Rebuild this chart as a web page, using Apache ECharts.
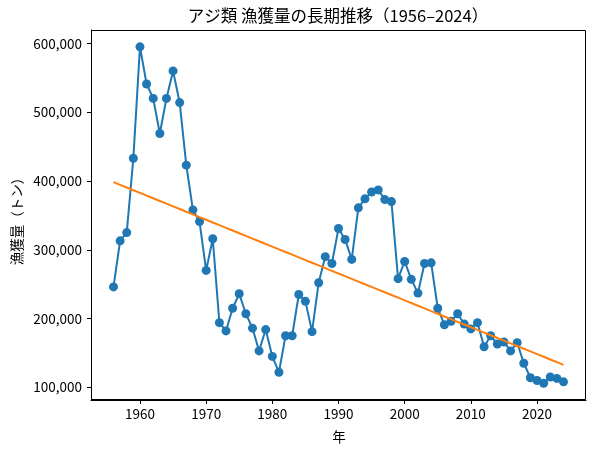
<!DOCTYPE html>
<html><head><meta charset="utf-8">
<script src="https://cdn.jsdelivr.net/npm/echarts@6/dist/echarts.min.js"></script>
<style>html,body{margin:0;padding:0;background:#fff}#c{width:597px;height:455px}</style>
</head><body><div id="c"></div>
<script>
const years = [];
for (let y = 1956; y <= 2024; y++) years.push(y);
const catch_t = [
 246000, 313000, 325000, 433000, 595000, 541000, 520000, 469000, 520000, 560000,
 514000, 423000, 358000, 341000, 270000, 316000, 194000, 182000, 215000, 236000,
 207000, 186000, 153000, 184000, 145000, 122000, 175000, 175000, 235000, 225000,
 181000, 252000, 290000, 280000, 331000, 315000, 286000, 361000, 374000, 384000,
 387000, 373000, 370000, 258000, 283000, 257000, 237000, 280000, 281000, 215000,
 191000, 196000, 207000, 192000, 185000, 194000, 159000, 175000, 163000, 166000,
 153000, 165000, 135000, 114000, 110000, 106000, 115000, 113000, 108000
];
const yTicks = [100000, 200000, 300000, 400000, 500000, 600000];
const xTicks = [1960, 1970, 1980, 1990, 2000, 2010, 2020];

// least squares trend
const n = years.length;
let sx=0, sy=0, sxx=0, sxy=0;
for (let i=0;i<n;i++){sx+=years[i];sy+=catch_t[i];sxx+=years[i]*years[i];sxy+=years[i]*catch_t[i];}
const b = (n*sxy - sx*sy)/(n*sxx - sx*sx);
const a = (sy - b*sx)/n;
const trend = years.map(x => [x, a + b*x]);

const font = '"Noto Sans CJK JP", "Noto Sans", sans-serif';
const chart = echarts.init(document.getElementById('c'), null, {renderer:'canvas'});
chart.setOption({
  animation: false,
  textStyle: {fontFamily: font},
  grid: {left: 91, right: 11, top: 30, bottom: 55, containLabel: false},
  graphic: [
    {type:'text', x: 338, y: 16,
     style:{text:'アジ類 漁獲量の長期推移（1956–2024）', font:'16.5px ' + font, fill:'#000', align:'center', verticalAlign:'middle'}},
    {type:'text', x: 339, y: 437, style:{text:'年', font:'13.5px ' + font, fill:'#000', align:'center', verticalAlign:'middle'}},
    {type:'text', x: 17, y: 218, rotation: Math.PI/2,
     style:{text:'漁獲量（トン）', font:'13.5px ' + font, fill:'#000', align:'center', verticalAlign:'middle'}},
    {type:'rect', shape:{x:91.5, y:30.5, width:494, height:369}, style:{fill:'none', stroke:'#000', lineWidth:1}, z:10, silent:true}
  ],
  xAxis: {
    type: 'value', min: 1952.6, max: 2027.4,
    splitLine: {show:false},
    axisLine: {show:true, onZero:false, lineStyle:{color:'#000', width:1}},
    axisTick: {show:true, length:4, lineStyle:{color:'#000'}, customValues: xTicks},
    axisLabel: {color:'#000', fontSize:13.5, margin:7, fontFamily: font, customValues: xTicks, formatter: v => String(v)}
  },
  yAxis: {
    type: 'value', min: 81600, max: 619500,
    splitLine: {show:false},
    axisLine: {show:true, onZero:false, lineStyle:{color:'#000', width:1}},
    axisTick: {show:true, length:4, lineStyle:{color:'#000'}, customValues: yTicks},
    axisLabel: {color:'#000', fontSize:13.5, margin:9, fontFamily: font, customValues: yTicks,
      formatter: v => v.toLocaleString('en-US')}
  },
  series: [
    {type:'line', data: years.map((y,i)=>[y, catch_t[i]]), symbol:'circle', symbolSize:9,
     itemStyle:{color:'#1f77b4'}, lineStyle:{color:'#1f77b4', width:2}, z:2},
    {type:'line', data: trend, symbol:'none', lineStyle:{color:'#ff7f0e', width:2}, z:3}
  ]
});
</script></body></html>
